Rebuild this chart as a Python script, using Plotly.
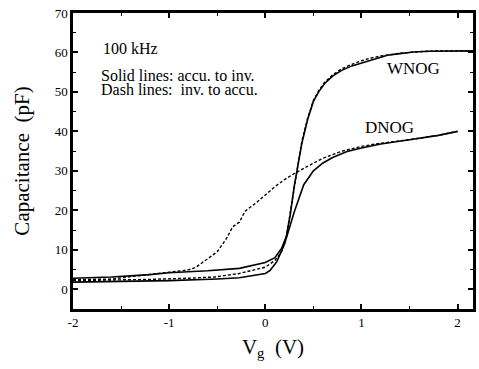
import plotly.graph_objects as go

# WNOG, accumulation -> inversion (solid)
wnog_solid_x = [-2, -1.6, -1.2, -1.0, -0.6, -0.27, 0, 0.1, 0.17, 0.22, 0.26, 0.3, 0.34, 0.38, 0.44, 0.5,
                0.56, 0.62, 0.7, 0.79, 0.9, 1.03, 1.15, 1.27, 1.4, 1.54, 1.7, 1.88, 2.0, 2.16]
wnog_solid_y = [2.8, 3.1, 3.7, 4.2, 4.7, 5.3, 6.8, 8.0, 10.4, 13.5, 19, 26, 31.5, 37, 43, 47.6,
                50.2, 52.2, 54.0, 55.4, 56.6, 57.6, 58.4, 59.3, 59.7, 60.1, 60.3, 60.4, 60.4, 60.4]

# WNOG, inversion -> accumulation (dashed)
wnog_dash_x = [-2, -1.6, -1.2, -0.8, -0.53, -0.27, 0, 0.1, 0.17, 0.22, 0.26, 0.3, 0.34, 0.38, 0.44, 0.5,
               0.56, 0.62, 0.7, 0.79, 0.9, 1.0, 1.1, 1.2, 1.4, 1.6, 1.8, 2.0, 2.16]
wnog_dash_y = [2.2, 2.3, 2.5, 2.8, 3.1, 4.0, 5.6, 7.3, 9.5, 13.5, 19.5, 26.5, 32, 37.5, 43.3, 47.8,
               50.5, 52.5, 54.3, 55.8, 57.0, 57.9, 58.6, 59.1, 59.8, 60.2, 60.4, 60.4, 60.4]

# DNOG, accumulation -> inversion (solid)
dnog_solid_x = [-2, -1.5, -1.0, -0.5, -0.27, 0, 0.05, 0.12, 0.2, 0.3, 0.4, 0.5, 0.6, 0.7, 0.85, 1.0,
                1.2, 1.5, 1.8, 2.0]
dnog_solid_y = [1.8, 2.0, 2.2, 2.6, 2.9, 4.0, 4.8, 7.0, 11.5, 19.5, 26.5, 30.0, 32.0, 33.4, 34.9, 35.8,
                36.8, 37.9, 39.0, 40.0]

# DNOG, inversion -> accumulation (dashed)
dnog_dash_x = [-2, -1.8, -1.6, -1.4, -1.2, -1.0, -0.9, -0.8, -0.72, -0.6, -0.5, -0.4, -0.34, -0.27,
               -0.21, -0.1, 0, 0.1, 0.2, 0.3, 0.45, 0.6, 0.8, 1.0, 1.2, 1.5, 1.8, 2.0]
dnog_dash_y = [2.4, 2.5, 2.6, 3.2, 3.8, 4.4, 4.6, 4.9, 5.6, 7.8, 9.5, 13.0, 15.8, 17.0,
               19.8, 21.8, 24.0, 26.0, 27.8, 29.3, 31.3, 33.2, 35.0, 36.2, 37.0, 37.9, 39.0, 40.0]

x_ticks = [-2, -1, 0, 1, 2]
y_ticks = [0, 10, 20, 30, 40, 50, 60, 70]

FONT = "Liberation Serif"
dash_style = "3px,2px"

fig = go.Figure()
fig.add_trace(go.Scatter(x=wnog_solid_x, y=wnog_solid_y, mode="lines",
                         line=dict(color="black", width=1.6)))
fig.add_trace(go.Scatter(x=wnog_dash_x, y=wnog_dash_y, mode="lines",
                         line=dict(color="black", width=1.4, dash=dash_style)))
fig.add_trace(go.Scatter(x=dnog_solid_x, y=dnog_solid_y, mode="lines",
                         line=dict(color="black", width=1.6)))
fig.add_trace(go.Scatter(x=dnog_dash_x, y=dnog_dash_y, mode="lines",
                         line=dict(color="black", width=1.4, dash=dash_style)))

axis_common = dict(
    showgrid=False, zeroline=False, showline=True, linecolor="#000000", linewidth=2.5,
    mirror="allticks", ticks="inside", ticklen=5, tickwidth=1.5, tickcolor="#000000",
    tickfont=dict(family=FONT, size=13, color="black"),
)

fig.update_layout(
    width=479, height=369,
    margin=dict(l=73, r=3, t=13, b=60),
    paper_bgcolor="white", plot_bgcolor="white",
    showlegend=False,
    font=dict(family=FONT, color="black", size=13),
    xaxis=dict(range=[-2, 2.16], tickmode="array", tickvals=x_ticks,
               ticktext=[str(v) for v in x_ticks],
               minor=dict(ticks="inside", tickmode="linear", tick0=-2, dtick=0.5, ticklen=3,
                          tickwidth=1.2, tickcolor="#000000"),
               title=dict(text="V<sub>g</sub>  (V)", font=dict(family=FONT, size=21), standoff=10),
               **axis_common),
    yaxis=dict(range=[-5, 70], tickmode="array", tickvals=y_ticks,
               ticktext=[str(v) for v in y_ticks],
               minor=dict(ticks="inside", tickmode="linear", tick0=0, dtick=5, ticklen=3,
                          tickwidth=1.2, tickcolor="#000000"),
               title=dict(text="Capacitance  (pF)", font=dict(family=FONT, size=21), standoff=20),
               **axis_common),
)

annos = [
    dict(x=-1.71, y=61.0, text="100 kHz", xanchor="left", size=16),
    dict(x=-1.73, y=54.1, text="Solid lines: accu. to inv.", xanchor="left", size=16),
    dict(x=-1.73, y=50.5, text="Dash lines:  inv. to accu.", xanchor="left", size=16),
    dict(x=1.545, y=55.9, text="WNOG", xanchor="center", size=17),
    dict(x=1.29, y=40.9, text="DNOG", xanchor="center", size=17),
]
for a in annos:
    fig.add_annotation(x=a["x"], y=a["y"], xref="x", yref="y", text=a["text"],
                       xanchor=a["xanchor"], yanchor="middle", showarrow=False,
                       font=dict(family=FONT, size=a["size"], color="black"))

fig.write_html("out.html", config={"displayModeBar": False},
               post_script="document.body.style.margin='0px';")
